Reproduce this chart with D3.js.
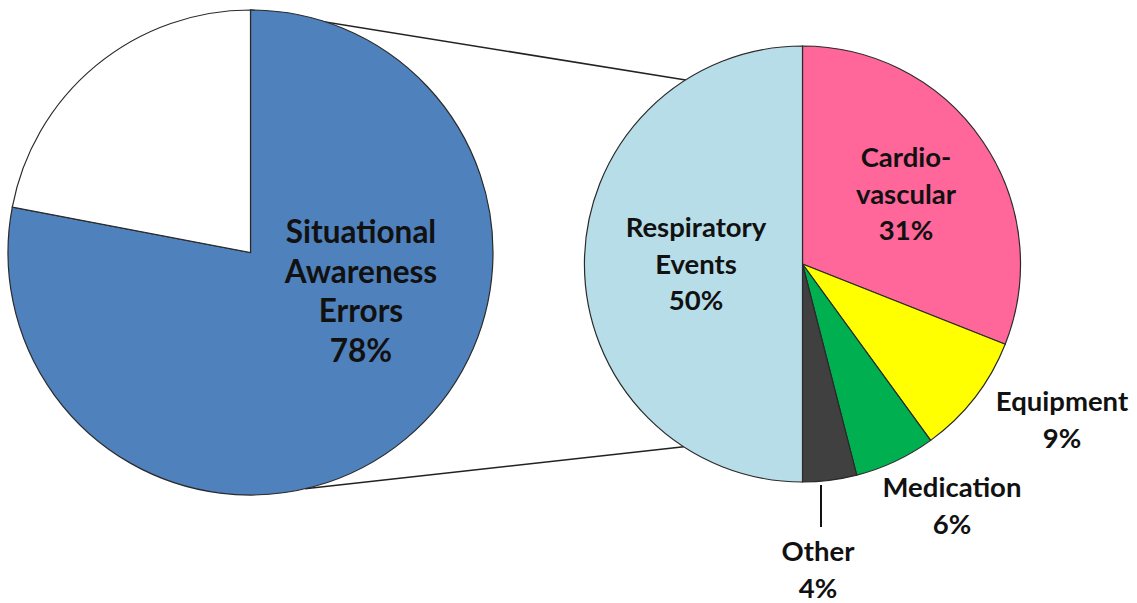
<!DOCTYPE html>
<html>
<head>
<meta charset="utf-8">
<style>
    body { margin: 0; background: #fff; }
    svg text { font-family: Lato, "Open Sans", sans-serif; font-weight: bold; fill: #111; }
</style>
</head>
<body>
<svg width="1137" height="603" id="chart-area"></svg>
<script src="https://d3js.org/d3.v7.min.js"></script>
<script>
    // overall split (left pie)
    var mainCategories = ["Situational Awareness Errors", "Rest"];
    var mainValues = [78, 22];
    var mainColors = ["#4f81bd", "#ffffff"];

    // breakdown of the 78% (right pie), clockwise from 12 o'clock
    var subCategories = ["Cardio-vascular", "Equipment", "Medication", "Other", "Respiratory Events"];
    var subValues = [31, 9, 6, 4, 50];
    var subColors = ["#ff6699", "#ffff00", "#00b050", "#404040", "#b7dde8"];

    // how each label is broken into lines
    var mainLabelLines = [["Situational", "Awareness", "Errors"], []];
    var subLabelLines = [["Cardio-", "vascular"], ["Equipment"], ["Medication"], ["Other"], ["Respiratory", "Events"]];

    var svg = d3.select("svg");

    var left = { cx: 250.5, cy: 252.5, r: 242.5 },
        right = { cx: 802.5, cy: 264, r: 218 };

    var pie = d3.pie().sort(null).value(function (d) { return d; });

    /* connector lines between the two pies (angles in degrees, clockwise from top) */
    function polar(p, deg) {
        var a = deg * Math.PI / 180;
        return [p.cx + p.r * Math.sin(a), p.cy - p.r * Math.cos(a)];
    }
    var connectors = [[0, -32.4], [167, 213]];
    svg.selectAll(".connector")
        .data(connectors)
        .enter().append("line")
        .attr("class", "connector")
        .attr("x1", function (d) { return polar(left, d[0])[0]; })
        .attr("y1", function (d) { return polar(left, d[0])[1]; })
        .attr("x2", function (d) { return polar(right, d[1])[0]; })
        .attr("y2", function (d) { return polar(right, d[1])[1]; })
        .attr("stroke", "#222")
        .attr("stroke-width", 1.5);

    /* left pie */
    var leftArc = d3.arc().innerRadius(0).outerRadius(left.r);
    var gl = svg.append("g").attr("transform", "translate(" + left.cx + "," + left.cy + ")");
    gl.selectAll("path")
        .data(pie(mainValues))
        .enter().append("path")
        .attr("d", leftArc)
        .attr("fill", function (d, i) { return mainColors[i]; })
        .attr("stroke", "#2a2a2a")
        .attr("stroke-width", 1.2);

    /* right pie */
    var rightArc = d3.arc().innerRadius(0).outerRadius(right.r);
    var gr = svg.append("g").attr("transform", "translate(" + right.cx + "," + right.cy + ")");
    gr.selectAll("path")
        .data(pie(subValues))
        .enter().append("path")
        .attr("d", rightArc)
        .attr("fill", function (d, i) { return subColors[i]; })
        .attr("stroke", "#2a2a2a")
        .attr("stroke-width", 1.2);

    /* labels: first baseline offset from pie centre */
    function addLabel(g, x, y, lines, size, lh) {
        var t = g.append("text")
            .attr("text-anchor", "middle")
            .style("font-size", size + "px");
        lines.forEach(function (s, i) {
            t.append("tspan").attr("x", x).attr("y", y + i * lh).text(s);
        });
    }

    var mainLabelAt = [[110.5, -9.5]];
    addLabel(gl, mainLabelAt[0][0], mainLabelAt[0][1],
        mainLabelLines[0].concat([mainValues[0] + "%"]), 31.5, 39.7);

    var subLabelAt = [[103.5, -97], [259.5, 147], [149.5, 233], [15.5, 297], [-106.5, -27]];
    subValues.forEach(function (v, i) {
        addLabel(gr, subLabelAt[i][0], subLabelAt[i][1], subLabelLines[i].concat([v + "%"]), 27.5, 36.5);
    });

    /* leader line for the small "Other" slice */
    var oi = subCategories.indexOf("Other");
    gr.append("line")
        .attr("x1", subLabelAt[oi][0] + 3)
        .attr("x2", subLabelAt[oi][0] + 3)
        .attr("y1", right.r + 3)
        .attr("y2", subLabelAt[oi][1] - 34)
        .attr("stroke", "#111")
        .attr("stroke-width", 2);
</script>
</body>
</html>
